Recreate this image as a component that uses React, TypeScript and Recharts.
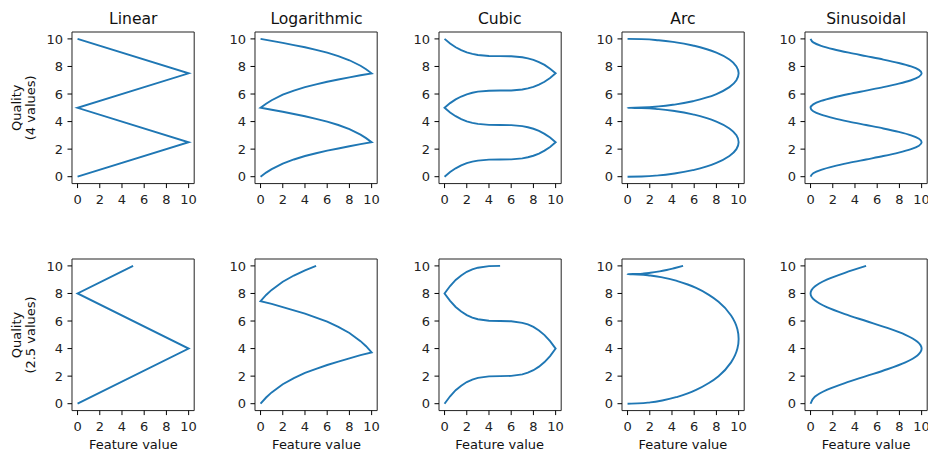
import React from "react";
import { LineChart, Line, XAxis, YAxis, ReferenceArea } from "recharts";

// quality (y) and feature value (x) pairs

const titles = ["Linear", "Logarithmic", "Cubic", "Arc", "Sinusoidal"];
const rowLabels = [
  ["Quality", "(4 values)"],
  ["Quality", "(2.5 values)"],
];
const xLabel = "Feature value";
const TICKS = [0, 2, 4, 6, 8, 10];

// Linear
const linTopQ = [0, 2.5, 5, 7.5, 10];
const linTopF = [0, 10, 0, 10, 0];
const linBotQ = [0, 4, 8, 10];
const linBotF = [0, 10, 0, 5];

// Logarithmic
const logTopQ = [
  0, 0.3, 0.55, 0.95, 1.25, 1.5, 1.7, 1.89, 2.05, 2.21, 2.36, 2.5,
  2.8, 3.05, 3.45, 3.75, 4.0, 4.2, 4.39, 4.55, 4.71, 4.86, 5,
  5.3, 5.55, 5.95, 6.25, 6.5, 6.7, 6.89, 7.05, 7.21, 7.36, 7.5,
  7.8, 8.05, 8.45, 8.75, 9.0, 9.2, 9.39, 9.55, 9.71, 9.86, 10,
];
const logTopF = [
  0, 0.5, 1, 2, 3, 4, 5, 6, 7, 8, 9, 10,
  9.5, 9, 8, 7, 6, 5, 4, 3, 2, 1, 0,
  0.5, 1, 2, 3, 4, 5, 6, 7, 8, 9, 10,
  9.5, 9, 8, 7, 6, 5, 4, 3, 2, 1, 0,
];
const logBotQ = [
  0, 0.45, 0.82, 1.41, 1.86, 2.23, 2.53, 2.81, 3.05, 3.29, 3.52, 3.72,
  4.17, 4.54, 5.13, 5.58, 5.95, 6.25, 6.53, 6.77, 7.01, 7.24, 7.44,
  7.89, 8.26, 8.85, 9.3, 9.68, 10,
];
const logBotF = [
  0, 0.5, 1, 2, 3, 4, 5, 6, 7, 8, 9, 10,
  9.5, 9, 8, 7, 6, 5, 4, 3, 2, 1, 0,
  0.5, 1, 2, 3, 4, 5,
];

// Cubic
const cubTopQ = [
  0, 0.34, 0.61, 0.82, 0.98, 1.09, 1.17, 1.24, 1.25, 1.26, 1.33, 1.41, 1.52, 1.68, 1.89, 2.16, 2.5,
  2.84, 3.11, 3.32, 3.48, 3.59, 3.67, 3.74, 3.75, 3.76, 3.83, 3.91, 4.02, 4.18, 4.39, 4.66, 5,
  5.34, 5.61, 5.82, 5.98, 6.09, 6.17, 6.24, 6.25, 6.26, 6.33, 6.41, 6.52, 6.68, 6.89, 7.16, 7.5,
  7.84, 8.11, 8.32, 8.48, 8.59, 8.67, 8.74, 8.75, 8.76, 8.83, 8.91, 9.02, 9.18, 9.39, 9.66, 10,
];
const cubTopF = [
  0, 0.5, 1, 1.5, 2, 2.5, 3, 4, 5, 6, 7, 7.5, 8, 8.5, 9, 9.5, 10,
  9.5, 9, 8.5, 8, 7.5, 7, 6, 5, 4, 3, 2.5, 2, 1.5, 1, 0.5, 0,
  0.5, 1, 1.5, 2, 2.5, 3, 4, 5, 6, 7, 7.5, 8, 8.5, 9, 9.5, 10,
  9.5, 9, 8.5, 8, 7.5, 7, 6, 5, 4, 3, 2.5, 2, 1.5, 1, 0.5, 0,
];
const cubBotQ = [
  0, 0.54, 0.98, 1.31, 1.57, 1.75, 1.87, 1.98, 2, 2.02, 2.13, 2.25, 2.43, 2.69, 3.02, 3.46, 4,
  4.54, 4.98, 5.31, 5.57, 5.75, 5.87, 5.98, 6, 6.02, 6.13, 6.25, 6.43, 6.69, 7.02, 7.46, 8,
  8.54, 8.98, 9.31, 9.57, 9.75, 9.87, 9.98, 10,
];
const cubBotF = [
  0, 0.5, 1, 1.5, 2, 2.5, 3, 4, 5, 6, 7, 7.5, 8, 8.5, 9, 9.5, 10,
  9.5, 9, 8.5, 8, 7.5, 7, 6, 5, 4, 3, 2.5, 2, 1.5, 1, 0.5, 0,
  0.5, 1, 1.5, 2, 2.5, 3, 4, 5,
];

// Arc
const arcTopQ = [
  0, 0.02, 0.1, 0.25, 0.5, 0.75, 1, 1.5, 2, 2.5, 3, 3.5, 4, 4.25, 4.5, 4.75, 4.9, 4.98, 5,
  5.02, 5.1, 5.25, 5.5, 5.75, 6, 6.5, 7, 7.5, 8, 8.5, 9, 9.25, 9.5, 9.75, 9.9, 9.98, 10,
];
const arcTopF = [
  0, 1.26, 2.8, 4.36, 6, 7.14, 8, 9.17, 9.8, 10, 9.8, 9.17, 8, 7.14, 6, 4.36, 2.8, 1.26, 0,
  1.26, 2.8, 4.36, 6, 7.14, 8, 9.17, 9.8, 10, 9.8, 9.17, 8, 7.14, 6, 4.36, 2.8, 1.26, 0,
];
const arcBotQ = [
  0, 0.02, 0.1, 0.25, 0.5, 0.75, 1, 1.5, 2, 3, 3.5, 4, 4.7, 5.4, 5.9, 6.4, 7.4, 7.9, 8.4, 8.65, 8.9, 9.15, 9.3, 9.38, 9.4,
  9.42, 9.45, 9.5, 9.6, 9.7, 9.85, 10,
];
const arcBotF = [
  0, 0.92, 2.05, 3.22, 4.49, 5.42, 6.17, 7.32, 8.19, 9.32, 9.67, 9.89, 10, 9.89, 9.67, 9.32, 8.19, 7.32, 6.17, 5.42, 4.49, 3.22, 2.05, 0.92, 0,
  0.92, 1.47, 2.05, 2.89, 3.52, 4.27, 5,
];

// Sinusoidal
const sinTopQ = [
  0, 0.25, 0.5, 0.75, 1, 1.25, 1.5, 1.75, 2, 2.25, 2.5, 2.75, 3, 3.25, 3.5, 3.75, 4, 4.25, 4.5, 4.75,
  5, 5.25, 5.5, 5.75, 6, 6.25, 6.5, 6.75, 7, 7.25, 7.5, 7.75, 8, 8.25, 8.5, 8.75, 9, 9.25, 9.5, 9.75, 10,
];
const sinTopF = [
  0, 0.24, 0.95, 2.06, 3.45, 5, 6.55, 7.94, 9.05, 9.76, 10, 9.76, 9.05, 7.94, 6.55, 5, 3.45, 2.06, 0.95, 0.24,
  0, 0.24, 0.95, 2.06, 3.45, 5, 6.55, 7.94, 9.05, 9.76, 10, 9.76, 9.05, 7.94, 6.55, 5, 3.45, 2.06, 0.95, 0.24, 0,
];
const sinBotQ = [0, 0.5, 1, 1.5, 2, 2.5, 3, 3.5, 4, 4.5, 5, 5.5, 6, 6.5, 7, 7.5, 8, 8.5, 9, 9.5, 10];
const sinBotF = [0, 0.38, 1.46, 3.09, 5, 6.91, 8.54, 9.62, 10, 9.62, 8.54, 6.91, 5, 3.09, 1.46, 0.38, 0, 0.38, 1.46, 3.09, 5];

const BLUE = "#1f77b4";
const FONT = "DejaVu Sans, sans-serif";

// layout of the axes boxes (px)
const BOX_LEFT = [72.2, 255.4, 438.6, 621.8, 805];
const BOX_TOP = [32, 259.2];
const BOX_W = 122.2;
const BOX_H = 151.6;
const Y_W = 44;
const X_H = 34;
const PAD = 3;

type Curve = "linear" | "monotoneY";

const zip = (q: number[], f: number[]) => q.map((v, i) => ({ q: v, f: f[i] }));

const panels: { row: number; col: number; q: number[]; f: number[]; curve: Curve }[] = [
  { row: 0, col: 0, q: linTopQ, f: linTopF, curve: "linear" },
  { row: 0, col: 1, q: logTopQ, f: logTopF, curve: "linear" },
  { row: 0, col: 2, q: cubTopQ, f: cubTopF, curve: "linear" },
  { row: 0, col: 3, q: arcTopQ, f: arcTopF, curve: "monotoneY" },
  { row: 0, col: 4, q: sinTopQ, f: sinTopF, curve: "monotoneY" },
  { row: 1, col: 0, q: linBotQ, f: linBotF, curve: "linear" },
  { row: 1, col: 1, q: logBotQ, f: logBotF, curve: "linear" },
  { row: 1, col: 2, q: cubBotQ, f: cubBotF, curve: "linear" },
  { row: 1, col: 3, q: arcBotQ, f: arcBotF, curve: "monotoneY" },
  { row: 1, col: 4, q: sinBotQ, f: sinBotF, curve: "monotoneY" },
];

const tickStyle = { fontSize: 13, fill: "#222", fontFamily: FONT };

function Panel({ left, top, data, curve }: { left: number; top: number; data: { q: number; f: number }[]; curve: Curve }) {
  return (
    <div style={{ position: "absolute", left: left - Y_W, top: top - PAD }}>
      <LineChart
        width={Y_W + BOX_W + PAD}
        height={PAD + BOX_H + X_H}
        margin={{ top: PAD, right: PAD, left: 0, bottom: 0 }}
        data={data}
      >
        <XAxis
          type="number"
          dataKey="f"
          domain={[-0.5, 10.5]}
          ticks={TICKS}
          interval={0}
          allowDataOverflow
          height={X_H}
          axisLine={false}
          tickSize={4.5}
          tickMargin={7}
          tickLine={{ stroke: "#000", strokeWidth: 1 }}
          tick={tickStyle}
        />
        <YAxis
          type="number"
          domain={[-0.5, 10.5]}
          ticks={TICKS}
          interval={0}
          allowDataOverflow
          width={Y_W}
          axisLine={false}
          tickSize={4.5}
          tickMargin={4.5}
          tickLine={{ stroke: "#000", strokeWidth: 1 }}
          tick={tickStyle}
        />
        <ReferenceArea x1={-0.5} x2={10.5} y1={-0.5} y2={10.5} fill="#fff" fillOpacity={0} stroke="#222" strokeWidth={1} />
        <Line
          dataKey="q"
          type={curve}
          stroke={BLUE}
          strokeWidth={1.9}
          dot={false}
          activeDot={false}
          isAnimationActive={false}
        />
      </LineChart>
    </div>
  );
}

export default function App() {
  return (
    <div style={{ position: "absolute", left: 0, top: 0, width: 928, height: 451, background: "#fff", overflow: "hidden" }}>
      {panels.map((p) => (
        <Panel key={`${p.row}-${p.col}`} left={BOX_LEFT[p.col]} top={BOX_TOP[p.row]} data={zip(p.q, p.f)} curve={p.curve} />
      ))}
      <svg width={928} height={451} style={{ position: "absolute", left: 0, top: 0, pointerEvents: "none" }}>
        {titles.map((t, i) => (
          <text key={t} x={BOX_LEFT[i] + BOX_W / 2} y={24} textAnchor="middle" fontSize={15.6} fontFamily={FONT} fill="#111">
            {t}
          </text>
        ))}
        {BOX_LEFT.map((l, i) => (
          <text key={i} x={l + BOX_W / 2} y={449} textAnchor="middle" fontSize={13} fontFamily={FONT} fill="#111">
            {xLabel}
          </text>
        ))}
        {rowLabels.map((lines, r) => {
          const cy = BOX_TOP[r] + BOX_H / 2;
          return (
            <g key={r}>
              <text x={21} y={cy} transform={`rotate(-90 21 ${cy})`} textAnchor="middle" fontSize={13} fontFamily={FONT} fill="#111">
                {lines[0]}
              </text>
              <text x={35} y={cy} transform={`rotate(-90 35 ${cy})`} textAnchor="middle" fontSize={13} fontFamily={FONT} fill="#111">
                {lines[1]}
              </text>
            </g>
          );
        })}
      </svg>
    </div>
  );
}
